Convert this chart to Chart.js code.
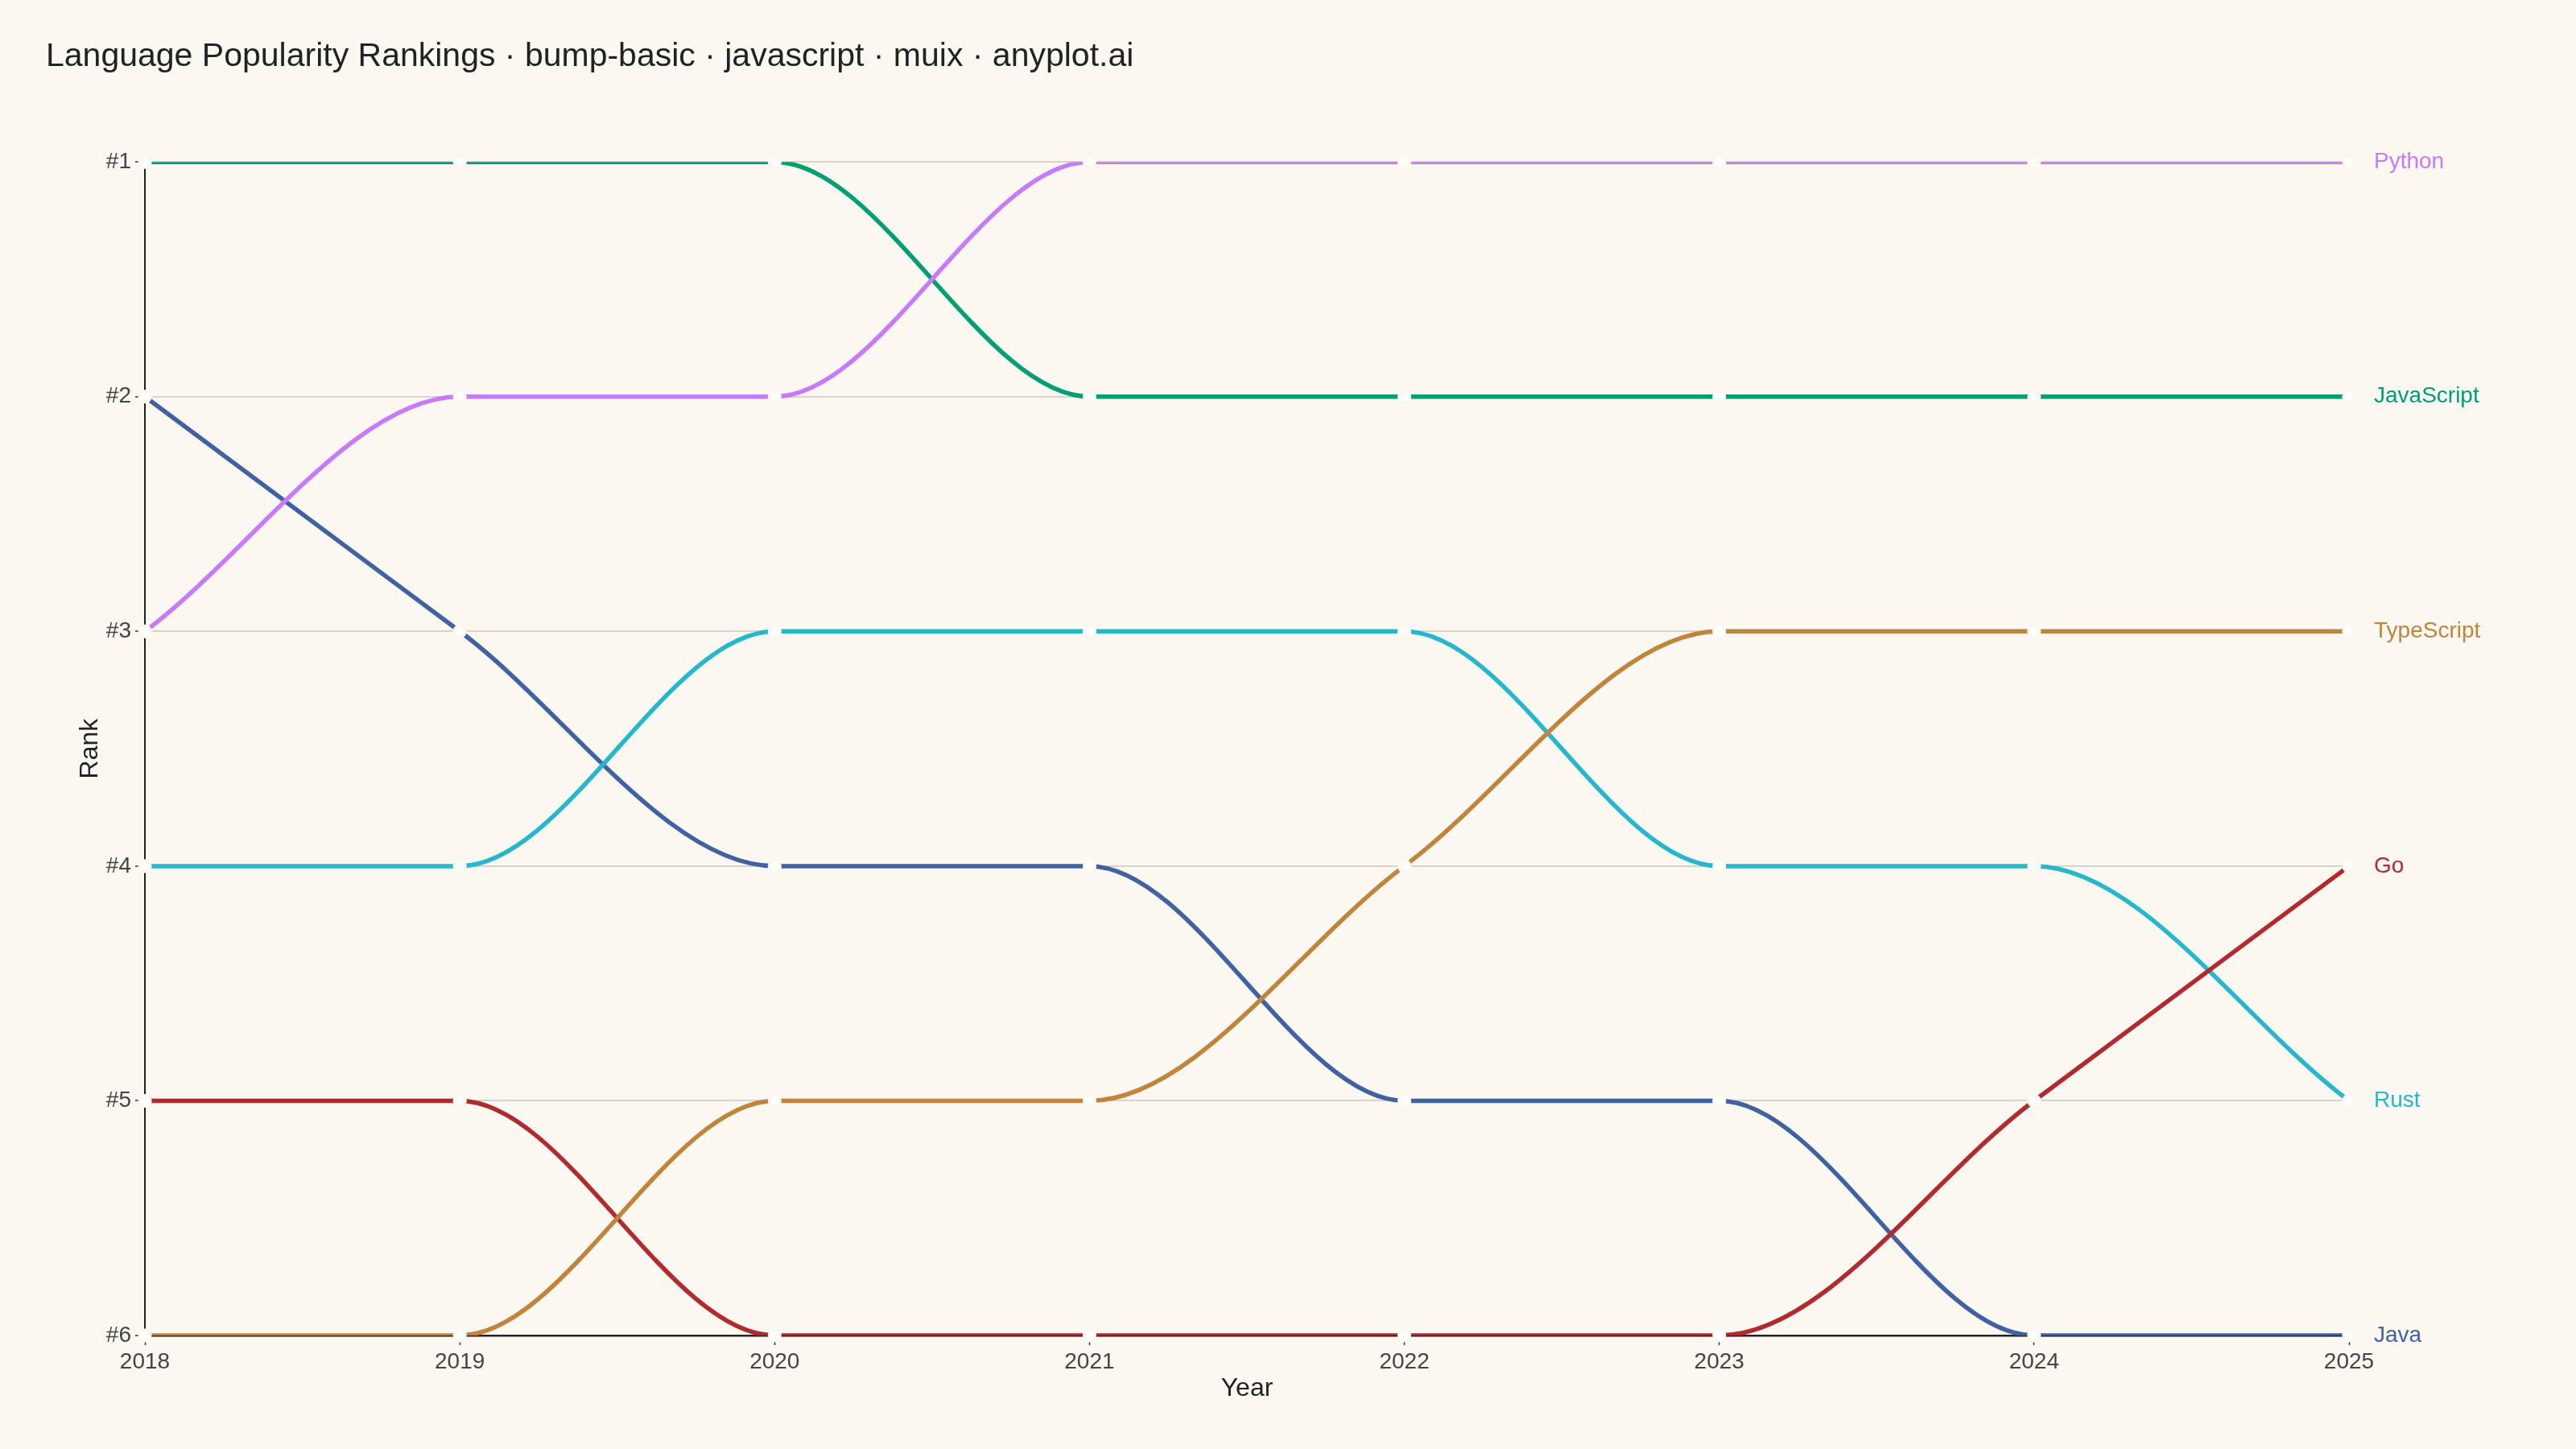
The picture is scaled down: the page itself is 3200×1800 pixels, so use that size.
<!DOCTYPE html>
<html>
<head>
<meta charset="utf-8">
<script src="https://cdn.jsdelivr.net/npm/chart.js@4"></script>
<style>
  html, body { margin: 0; padding: 0; background: #FAF8F1; }
  #wrap { width: 3200px; height: 1800px; }
</style>
</head>
<body>
<div id="wrap"><canvas id="bump"></canvas></div>
<script>
const years = ['2018', '2019', '2020', '2021', '2022', '2023', '2024', '2025'];
const languages = ['Python', 'JavaScript', 'TypeScript', 'Go', 'Rust', 'Java'];

const pythonRank     = [3, 2, 2, 1, 1, 1, 1, 1];
const javascriptRank = [1, 1, 1, 2, 2, 2, 2, 2];
const typescriptRank = [6, 6, 5, 5, 4, 3, 3, 3];
const goRank         = [5, 5, 6, 6, 6, 6, 5, 4];
const rustRank       = [4, 4, 3, 3, 3, 4, 4, 5];
const javaRank       = [2, 3, 4, 4, 5, 5, 6, 6];

const rankTicks = [1, 2, 3, 4, 5, 6];

const ranks = [pythonRank, javascriptRank, typescriptRank, goRank, rustRank, javaRank];
const colors = ['#C77BFA', '#009E73', '#C0843A', '#B02A30', '#27B7CD', '#4062A0'];

const bg = '#FAF8F1';
Chart.defaults.font.family = '"Liberation Sans", Arial, sans-serif';

// points sit on top of every line and are not clipped at the plot edges
const pointsOnTop = {
    id: 'pointsOnTop',
    afterDatasetsDraw(chart) {
        const ctx = chart.ctx;
        chart.data.datasets.forEach((ds, i) => {
            const meta = chart.getDatasetMeta(i);
            meta.data.forEach(p => p.draw(ctx));
        });
    }
};

// language name beside the last point
const endLabels = {
    id: 'endLabels',
    afterDatasetsDraw(chart) {
        const ctx = chart.ctx;
        ctx.save();
        ctx.font = '28px "Liberation Sans", Arial, sans-serif';
        ctx.textAlign = 'left';
        ctx.textBaseline = 'middle';
        chart.data.datasets.forEach((ds, i) => {
            const meta = chart.getDatasetMeta(i);
            const last = meta.data[meta.data.length - 1];
            ctx.fillStyle = ds.borderColor;
            ctx.fillText(ds.label, last.x + 31, last.y);
        });
        ctx.restore();
    }
};

const datasets = [];
for (let i = 0; i < languages.length; i++) {
    datasets.push({
        label: languages[i],
        data: ranks[i],
        borderColor: colors[i],
        borderWidth: 5.5,
        cubicInterpolationMode: 'monotone',
        pointRadius: 7,
        pointBorderWidth: 3,
        pointBackgroundColor: '#FFFFFF',
        pointBorderColor: bg,
        pointHoverRadius: 7,
        clip: 0
    });
}

new Chart(document.getElementById('bump'), {
    type: 'line',
    data: { labels: years, datasets: datasets },
    plugins: [pointsOnTop, endLabels],
    options: {
        responsive: true,
        maintainAspectRatio: false,
        animation: false,
        devicePixelRatio: 1,
        layout: { padding: { left: 57, right: 282, top: 0, bottom: 40 } },
        plugins: {
            legend: { display: false },
            tooltip: { enabled: false },
            title: {
                display: true,
                text: 'Language Popularity Rankings · bump-basic · javascript · muix · anyplot.ai',
                align: 'start',
                color: '#222222',
                font: { size: 41, weight: 'normal' },
                padding: { top: 46, bottom: 106 }
            }
        },
        scales: {
            x: {
                type: 'category',
                offset: false,
                afterFit(scale) { scale.height = 101; },
                grid: {
                    drawOnChartArea: false,
                    tickLength: 12,
                    tickColor: '#333333',
                    tickWidth: 1.5
                },
                border: { display: true, color: '#222222', width: 2.5 },
                ticks: { color: '#444444', font: { size: 28 }, padding: 4 },
                title: {
                    display: true,
                    text: 'Year',
                    color: '#222222',
                    font: { size: 32 },
                    padding: { top: 0, bottom: 16 }
                }
            },
            y: {
                reverse: true,
                min: 1,
                max: 6,
                afterFit(scale) { scale.width = 123; },
                afterBuildTicks(scale) { scale.ticks = rankTicks.map(v => ({ value: v })); },
                grid: {
                    color: '#D7D4CC',
                    lineWidth: 2,
                    tickLength: 12,
                    tickColor: '#333333',
                    tickWidth: 1.5
                },
                border: { display: true, color: '#222222', width: 2 },
                ticks: {
                    color: '#444444',
                    font: { size: 28 },
                    padding: 5,
                    callback: v => '#' + v
                },
                title: {
                    display: true,
                    text: 'Rank',
                    color: '#222222',
                    font: { size: 32 },
                    padding: { top: 36, bottom: 0 }
                }
            }
        }
    }
});
</script>
</body>
</html>
